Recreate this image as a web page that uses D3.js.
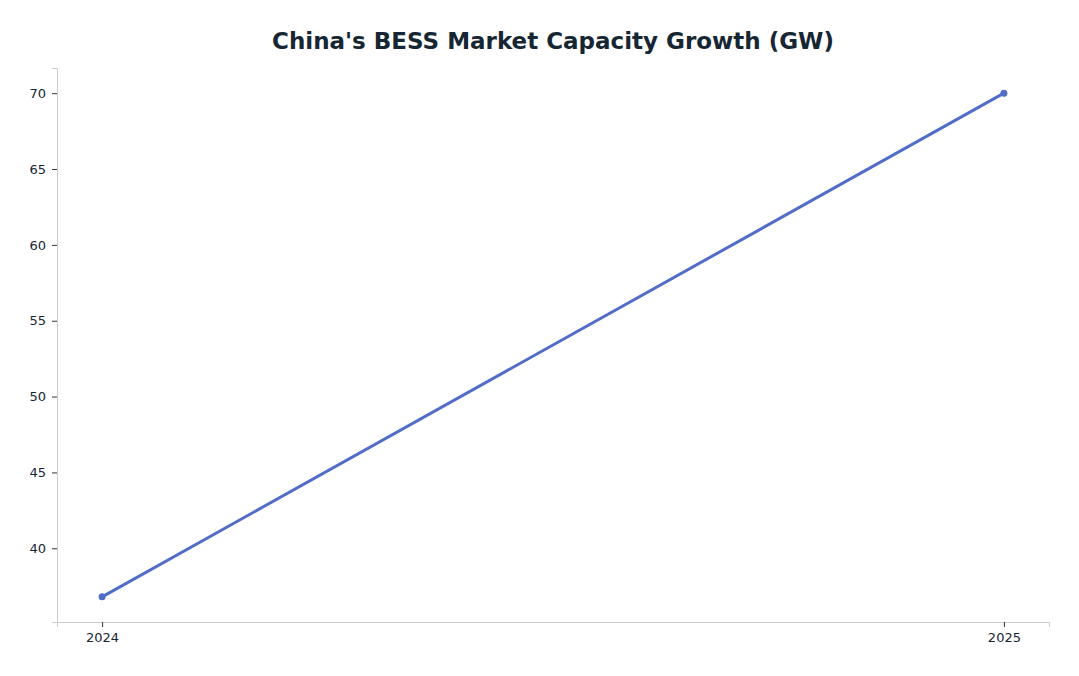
<!DOCTYPE html>
<html>
<head>
<meta charset="utf-8">
<script src="https://cdn.jsdelivr.net/npm/d3@7"></script>
<style>
  body { margin: 0; background: #fff; font-family: "DejaVu Sans", sans-serif; }
</style>
</head>
<body>
<svg id="chart" width="1079" height="676"></svg>
<script>
const years = ["2024", "2025"];
const capacity = [36.8, 70];
const yTicks = [40, 45, 50, 55, 60, 65, 70];

const svg = d3.select("#chart");
const mLeft = 57, mRight = 1049, mTop = 68, mBottom = 622;

// 5% padding on both axes, like the original
const span = d3.max(capacity) - d3.min(capacity);
const y = d3.scaleLinear()
  .domain([d3.min(capacity) - span * 0.05, d3.max(capacity) + span * 0.05])
  .range([mBottom, mTop]);
const x = d3.scaleLinear().domain([-0.05, 1.05]).range([mLeft, mRight]);

svg.append("text")
  .attr("x", 553).attr("y", 49)
  .attr("text-anchor", "middle")
  .attr("font-size", 23).attr("font-weight", "bold")
  .attr("fill", "#172633")
  .text("China's BESS Market Capacity Growth (GW)");

const yAxis = svg.append("g")
  .attr("transform", `translate(${mLeft},0)`)
  .call(d3.axisLeft(y).tickValues(yTicks).tickSize(5).tickPadding(6));
const xAxis = svg.append("g")
  .attr("transform", `translate(0,${mBottom})`)
  .call(d3.axisBottom(x).tickValues(years.map((d, i) => i)).tickFormat(i => years[i]).tickSize(5).tickPadding(6));

[yAxis, xAxis].forEach(g => {
  g.select(".domain").attr("stroke", "#cccccc");
  g.selectAll(".tick line").attr("stroke", "#333");
  g.selectAll(".tick text").attr("font-size", 13).attr("fill", "#172633")
    .attr("font-family", "DejaVu Sans, sans-serif");
});

const line = d3.line().x((d, i) => x(i)).y(d => y(d));
svg.append("path")
  .datum(capacity)
  .attr("d", line)
  .attr("fill", "none")
  .attr("stroke", "#526dc8")
  .attr("stroke-width", 3);

svg.selectAll("circle.pt")
  .data(capacity)
  .join("circle")
  .attr("class", "pt")
  .attr("cx", (d, i) => x(i))
  .attr("cy", d => y(d))
  .attr("r", 3.5)
  .attr("fill", "#526dc8");
</script>
</body>
</html>
